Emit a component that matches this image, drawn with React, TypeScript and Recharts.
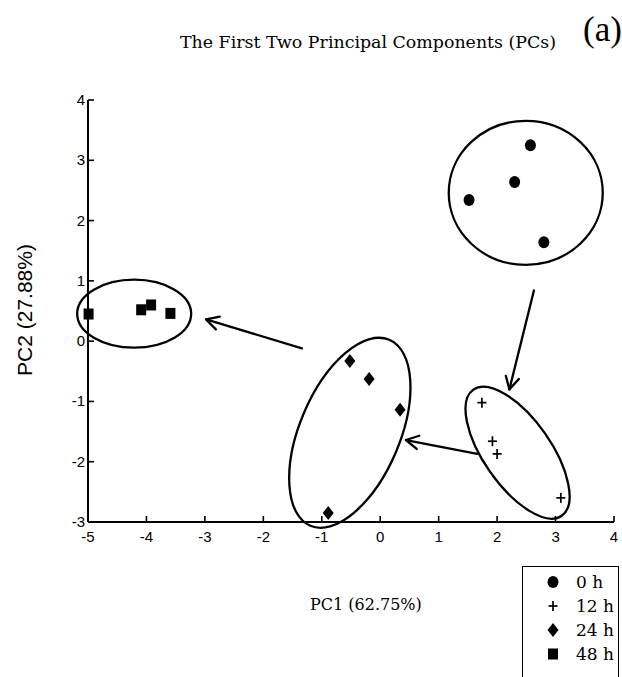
import React from 'react';
import { ScatterChart, Scatter, XAxis, YAxis, ReferenceLine, Legend } from 'recharts';

// ---------- data ----------
const xTicks = [-5, -4, -3, -2, -1, 0, 1, 2, 3, 4];
const yTicks = [-3, -2, -1, 0, 1, 2, 3, 4];

const seriesNames = ['0 h', '12 h', '24 h', '48 h'];

const h0 = [
  { x: 2.57, y: 3.25 },
  { x: 2.3, y: 2.64 },
  { x: 1.52, y: 2.34 },
  { x: 2.8, y: 1.64 },
];
const h12 = [
  { x: 1.74, y: -1.02 },
  { x: 1.92, y: -1.66 },
  { x: 2.0, y: -1.87 },
  { x: 3.09, y: -2.6 },
];
const h24 = [
  { x: -0.52, y: -0.33 },
  { x: -0.19, y: -0.63 },
  { x: 0.34, y: -1.14 },
  { x: -0.89, y: -2.85 },
];
const h48 = [
  { x: -4.99, y: 0.45 },
  { x: -4.09, y: 0.52 },
  { x: -3.92, y: 0.6 },
  { x: -3.59, y: 0.46 },
];

// cluster outline centres (data units)
const clusterCenters = [
  { x: 2.49, y: 2.46, cluster: '0 h' },
  { x: 2.35, y: -1.85, cluster: '12 h' },
  { x: -0.52, y: -1.52, cluster: '24 h' },
  { x: -4.21, y: 0.455, cluster: '48 h' },
];

// arrows between clusters (data units)
const arrowFrom = [
  { x: 2.63, y: 0.84 },
  { x: 1.66, y: -1.87 },
  { x: -1.34, y: -0.12 },
];
const arrowTo = [
  { x: 2.21, y: -0.8 },
  { x: 0.44, y: -1.64 },
  { x: -2.98, y: 0.36 },
];

// ---------- styles ----------
const outlineStyle: Record<string, { rx: number; ry: number; angle: number }> = {
  '0 h': { rx: 77, ry: 72, angle: 0 },
  '12 h': { rx: 33.5, ry: 77, angle: -35 },
  '24 h': { rx: 50, ry: 101, angle: 23 },
  '48 h': { rx: 57, ry: 34, angle: 0 },
};

const INK = '#000';
const SERIF = '"DejaVu Serif", serif';
const SANS = '"Liberation Sans", Arial, sans-serif';

const CircleMark = (p: any) => <ellipse cx={p.cx} cy={p.cy} rx={5.5} ry={6} fill={INK} />;
const PlusMark = (p: any) => (
  <g stroke={INK} strokeWidth={1.7}>
    <line x1={p.cx - 4.5} y1={p.cy} x2={p.cx + 4.5} y2={p.cy} />
    <line x1={p.cx} y1={p.cy - 5} x2={p.cx} y2={p.cy + 5} />
  </g>
);
const DiamondMark = (p: any) => (
  <polygon
    points={`${p.cx},${p.cy - 7} ${p.cx + 5.5},${p.cy} ${p.cx},${p.cy + 7} ${p.cx - 5.5},${p.cy}`}
    fill={INK}
  />
);
const SquareMark = (p: any) => <rect x={p.cx - 5} y={p.cy - 5.5} width={10} height={11} fill={INK} />;

const OutlineShape = (p: any) => {
  const s = outlineStyle[p.payload?.cluster] || outlineStyle['0 h'];
  return (
    <ellipse
      cx={p.cx}
      cy={p.cy}
      rx={s.rx}
      ry={s.ry}
      fill="none"
      stroke={INK}
      strokeWidth={2.3}
      transform={`rotate(${s.angle} ${p.cx} ${p.cy})`}
    />
  );
};

const ArrowShape = (p: any) => {
  const { x1, y1, x2, y2 } = p;
  if (x1 == null || x2 == null) return null;
  const ang = Math.atan2(y2 - y1, x2 - x1);
  const L = 14;
  const spread = 0.5;
  const ax = x2 - L * Math.cos(ang - spread);
  const ay = y2 - L * Math.sin(ang - spread);
  const bx = x2 - L * Math.cos(ang + spread);
  const by = y2 - L * Math.sin(ang + spread);
  return (
    <g stroke={INK} strokeWidth={2.3} fill="none" strokeLinecap="round" strokeLinejoin="round">
      <line x1={x1} y1={y1} x2={x2} y2={y2} />
      <polyline points={`${ax},${ay} ${x2},${y2} ${bx},${by}`} />
    </g>
  );
};

const XTick = (p: any) => {
  const { x, y, payload } = p;
  return (
    <g>
      <line x1={x} y1={y} x2={x} y2={y - 6} stroke={INK} strokeWidth={1.6} />
      <text x={x} y={y + 20} textAnchor="middle" fontFamily={SANS} fontSize={15} fill={INK}>
        {payload.value}
      </text>
    </g>
  );
};

const YTick = (p: any) => {
  const { x, y, payload } = p;
  return (
    <g>
      <line x1={x} y1={y} x2={x + 6} y2={y} stroke={INK} strokeWidth={1.6} />
      <text x={x - 3} y={y + 5} textAnchor="end" fontFamily={SANS} fontSize={15} fill={INK}>
        {payload.value}
      </text>
    </g>
  );
};

const legendIcon = (name: string) => {
  const c = { cx: 8, cy: 8 };
  let mark = null;
  if (name === '0 h') mark = <CircleMark {...c} />;
  else if (name === '12 h') mark = <PlusMark {...c} />;
  else if (name === '24 h') mark = <DiamondMark {...c} />;
  else mark = <SquareMark {...c} />;
  return (
    <svg width={16} height={16} style={{ display: 'block' }}>
      {mark}
    </svg>
  );
};

const LegendContent = (props: any) => {
  const items = (props.payload || []).filter((e: any) => seriesNames.includes(e.value));
  return (
    <div
      style={{
        border: '1.5px solid #000',
        boxSizing: 'border-box',
        width: 97,
        height: 130,
        background: '#fff',
        paddingTop: 3,
      }}
    >
      {items.map((e: any) => (
        <div key={e.value} style={{ display: 'flex', alignItems: 'center', height: 24 }}>
          <div style={{ width: 22, marginLeft: 22 }}>{legendIcon(e.value)}</div>
          <div style={{ marginLeft: 9, fontFamily: SERIF, fontSize: 17, color: INK, whiteSpace: 'nowrap' }}>
            {e.value}
          </div>
        </div>
      ))}
    </div>
  );
};

export default function App() {
  return (
    <div
      style={{
        position: 'absolute',
        left: 0,
        top: 0,
        width: 622,
        height: 677,
        overflow: 'hidden',
        background: '#fff',
      }}
    >
      <div
        style={{
          position: 'absolute',
          left: 180,
          top: 33,
          fontFamily: SERIF,
          fontSize: 17.4,
          lineHeight: '18px',
          whiteSpace: 'nowrap',
          color: INK,
        }}
      >
        The First Two Principal Components (PCs)
      </div>
      <div
        style={{
          position: 'absolute',
          left: 583,
          top: 12,
          fontFamily: '"Liberation Serif", serif',
          fontSize: 35,
          lineHeight: '35px',
          whiteSpace: 'nowrap',
          color: INK,
        }}
      >
        (a)
      </div>
      <div
        style={{
          position: 'absolute',
          left: 310,
          top: 597,
          fontFamily: SERIF,
          fontSize: 16,
          lineHeight: '16px',
          whiteSpace: 'nowrap',
          color: INK,
        }}
      >
        PC1 (62.75%)
      </div>
      <div
        style={{
          position: 'absolute',
          left: 24,
          top: 310,
          transform: 'translate(-50%, -50%) rotate(-90deg)',
          fontFamily: SANS,
          fontSize: 21,
          lineHeight: '21px',
          whiteSpace: 'nowrap',
          color: INK,
        }}
      >
        PC2 (27.88%)
      </div>
      <div style={{ position: 'absolute', left: 0, top: 0 }}>
        <ScatterChart width={622} height={677} margin={{ top: 100, right: 8, bottom: 125, left: 48 }}>
          <XAxis
            type="number"
            dataKey="x"
            domain={[-5, 4]}
            ticks={xTicks}
            height={30}
            axisLine={{ stroke: INK, strokeWidth: 2 }}
            tickLine={false}
            tickSize={0}
            tickMargin={0}
            tick={<XTick />}
            interval={0}
          />
          <YAxis
            type="number"
            dataKey="y"
            domain={[-3, 4]}
            ticks={yTicks}
            width={40}
            axisLine={{ stroke: INK, strokeWidth: 2 }}
            tickLine={false}
            tickSize={0}
            tickMargin={0}
            tick={<YTick />}
            interval={0}
          />
          <Scatter
            name="outline"
            data={clusterCenters}
            shape={OutlineShape}
            legendType="none"
            isAnimationActive={false}
          />
          <Scatter name={seriesNames[0]} data={h0} shape={CircleMark} fill={INK} isAnimationActive={false} />
          <Scatter name={seriesNames[1]} data={h12} shape={PlusMark} fill={INK} isAnimationActive={false} />
          <Scatter name={seriesNames[2]} data={h24} shape={DiamondMark} fill={INK} isAnimationActive={false} />
          <Scatter name={seriesNames[3]} data={h48} shape={SquareMark} fill={INK} isAnimationActive={false} />
          {arrowFrom.map((f, i) => (
            <ReferenceLine key={i} segment={[f, arrowTo[i]]} shape={ArrowShape} ifOverflow="visible" />
          ))}
          <Legend
            layout="vertical"
            align="center"
            verticalAlign="middle"
            wrapperStyle={{ left: 522, top: 566, width: 97, height: 130 }}
            content={<LegendContent />}
          />
        </ScatterChart>
      </div>
    </div>
  );
}
